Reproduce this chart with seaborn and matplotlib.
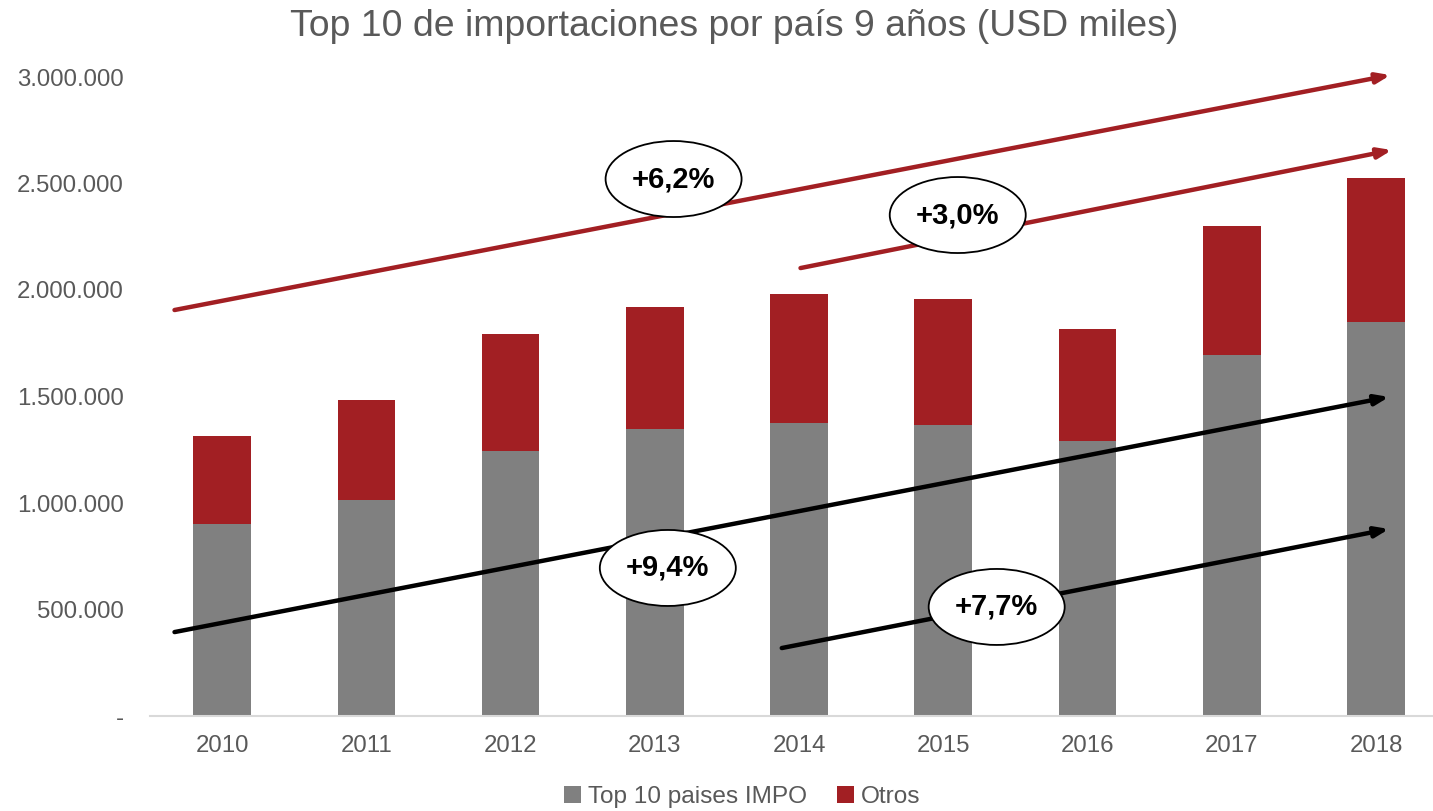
import matplotlib
matplotlib.use("Agg")
import matplotlib.pyplot as plt
import seaborn as sns
import pandas as pd
from matplotlib.ticker import FuncFormatter
from matplotlib.patches import Ellipse

years = ["2010", "2011", "2012", "2013", "2014", "2015", "2016", "2017", "2018"]
top10 = [901000, 1014000, 1244000, 1347000, 1375000, 1366000, 1291000, 1695000, 1850000]
otros = [413000, 469000, 549000, 573000, 606000, 592000, 526000, 605000, 676000]

title = "Top 10 de importaciones por país 9 años (USD miles)"
legend_labels = ["Top 10 paises IMPO", "Otros"]

# growth arrows
arrow_labels = ["+6,2%", "+3,0%", "+9,4%", "+7,7%"]
arrow_start_x = [-0.33, 4.01, -0.33, 3.88]
arrow_start_y = [1906000, 2103000, 394000, 319000]
arrow_end_x = [8.10, 8.11, 8.09, 8.09]
arrow_end_y = [3009000, 2657000, 1498000, 878000]
label_x = [3.13, 5.10, 3.09, 5.37]
label_y = [2521000, 2352000, 695000, 512000]

GRAY = "#808080"
RED = "#A21F23"
TXT = "#595959"

sns.set_style("white")
plt.rcParams["font.family"] = ["Liberation Sans", "DejaVu Sans"]

totals = [a + b for a, b in zip(top10, otros)]
df = pd.DataFrame({"year": years, "top10": top10, "total": totals})

fig = plt.figure(figsize=(14.33, 8.11), dpi=100)
ax = fig.add_axes([150 / 1433, 1 - 716 / 811, 1 - 150 / 1433, (716 - 77) / 811])

sns.barplot(data=df, x="year", y="total", color=RED, width=0.4, ax=ax,
            saturation=1, label=legend_labels[1], linewidth=0)
sns.barplot(data=df, x="year", y="top10", color=GRAY, width=0.4, ax=ax,
            saturation=1, label=legend_labels[0], linewidth=0)
if ax.get_legend() is not None:
    ax.get_legend().remove()

ax.set_xlim(-0.5, 8.395)
ax.set_ylim(0, 3000000)
ax.set_yticks([0, 500000, 1000000, 1500000, 2000000, 2500000, 3000000])
ax.yaxis.set_major_formatter(FuncFormatter(
    lambda v, p: "-" if v == 0 else f"{int(v):,}".replace(",", ".")))
ax.set_xlabel("")
ax.set_ylabel("")
for s in ["top", "right", "left"]:
    ax.spines[s].set_visible(False)
ax.spines["bottom"].set_color("#D9D9D9")
ax.spines["bottom"].set_linewidth(1.5)
ax.tick_params(axis="both", length=0, labelsize=17.3, colors=TXT)
ax.tick_params(axis="x", pad=14)
ax.tick_params(axis="y", pad=19)

fig.text(734 / 1433, 1 - 27 / 811, title, ha="center", va="center", fontsize=26.9, color=TXT)

colors = [RED, RED, "black", "black"]
for i in range(4):
    ax.annotate("", xy=(arrow_end_x[i], arrow_end_y[i]),
                xytext=(arrow_start_x[i], arrow_start_y[i]),
                arrowprops=dict(arrowstyle="-|>,head_length=0.8,head_width=0.3",
                                color=colors[i], lw=3.2, shrinkA=0, shrinkB=0),
                annotation_clip=False, zorder=5)

# ellipse size in pixels converted to data units
px_per_cat = (ax.get_position().width * 1433) / (8.395 + 0.5)
px_per_val = (ax.get_position().height * 811) / 3000000
for i in range(4):
    ax.add_patch(Ellipse((label_x[i], label_y[i]), 136 / px_per_cat, 76 / px_per_val,
                         fc="white", ec="black", lw=1.3, zorder=6, clip_on=False))
    ax.text(label_x[i], label_y[i], arrow_labels[i], ha="center", va="center",
            fontsize=21, fontweight="bold", color="black", zorder=7)

h, l = ax.get_legend_handles_labels()
order = [l.index(legend_labels[0]), l.index(legend_labels[1])]
leg = fig.legend([h[k] for k in order], [l[k] for k in order], loc="center",
                 bbox_to_anchor=(0.518, 1 - 797 / 811), ncol=2, frameon=False, fontsize=17.6,
                 handlelength=0.7, handleheight=0.7, handletextpad=0.3, columnspacing=1.2,
                 borderaxespad=0, borderpad=0)
for t in leg.get_texts():
    t.set_color(TXT)

fig.savefig("out.png", dpi=100)
